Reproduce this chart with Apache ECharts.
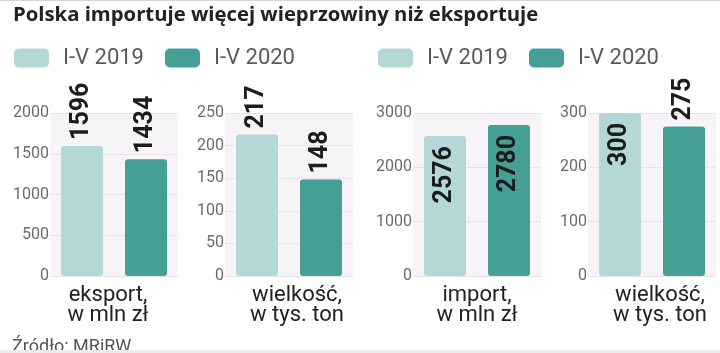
<!DOCTYPE html>
<html>
<head>
<meta charset="utf-8">
<script src="https://cdn.jsdelivr.net/npm/echarts@6/dist/echarts.min.js"></script>
<style>
    html, body { margin: 0; padding: 0; background: #fff; }
    #chart { width: 720px; height: 353px; }
</style>
</head>
<body>
<div id="chart"></div>
<script>
    // dane
    var seriesNames = ['I-V 2019', 'I-V 2020'];
    var values2019 = [1596, 217, 2576, 300];
    var values2020 = [1434, 148, 2780, 275];
    var panelNames = ['eksport,\nw mln zł', 'wielkość,\nw tys. ton', 'import,\nw mln zł', 'wielkość,\nw tys. ton'];
    var axisMax = [2000, 250, 3000, 300];
    var axisStep = [500, 50, 1000, 100];

    // wygląd
    var colorLight = '#b4d8d7';
    var colorDark = '#459f95';
    var gridLeft = [50, 225, 413, 588];
    var namePadding = [[0, 12, 0, 0], [0, 0, 0, 16], [0, 0, 0, 0], [0, 0, 0, 16]];
    // etykiety: true = wewnątrz słupka
    var inside2019 = [false, false, true, true];
    var inside2020 = [false, false, true, false];

    function barLabel(isInside) {
        return {
            show: true,
            position: isInside ? 'insideTop' : 'top',
            rotate: 90,
            align: isInside ? 'right' : 'left',
            verticalAlign: 'middle',
            distance: isInside ? 10 : 6,
            fontFamily: 'Roboto',
            fontWeight: 'bold',
            fontSize: 25,
            color: '#1c1c1c'
        };
    }

    var grids = [], xAxes = [], yAxes = [], series = [];
    for (var i = 0; i < 4; i++) {
        grids.push({
            left: gridLeft[i], width: 128, top: 113, bottom: 77,
            show: true, backgroundColor: '#f7f4f8', borderWidth: 0
        });
        xAxes.push({
            gridIndex: i,
            type: 'category',
            data: ['2019', '2020'],
            axisLine: {show: false},
            axisTick: {show: false},
            axisLabel: {show: false},
            name: panelNames[i],
            nameLocation: 'middle',
            nameGap: 9,
            nameTextStyle: {
                fontFamily: 'Roboto',
                fontSize: 22,
                lineHeight: 20,
                color: '#222',
                padding: namePadding[i]
            }
        });
        yAxes.push({
            gridIndex: i,
            type: 'value',
            min: 0,
            max: axisMax[i],
            interval: axisStep[i],
            axisLine: {show: false},
            axisTick: {show: false},
            axisLabel: {
                fontFamily: 'Roboto', fontSize: 16, color: '#6b6b6b', margin: 1,
                formatter: function (v) { return String(v); }
            },
            splitLine: {lineStyle: {color: '#e9e3e9', width: 1}}
        });
        series.push({
            name: seriesNames[0], type: 'bar', xAxisIndex: i, yAxisIndex: i,
            data: [values2019[i], '-'], barWidth: 42, barGap: '-100%',
            itemStyle: {color: colorLight, borderRadius: 3},
            label: barLabel(inside2019[i])
        });
        series.push({
            name: seriesNames[1], type: 'bar', xAxisIndex: i, yAxisIndex: i,
            data: ['-', values2020[i]], barWidth: 42, barGap: '-100%',
            itemStyle: {color: colorDark, borderRadius: 3},
            label: barLabel(inside2020[i])
        });
    }

    var legendBase = {
        top: 47,
        padding: 0,
        itemWidth: 35,
        itemHeight: 19,
        itemGap: 21,
        icon: 'roundRect',
        textStyle: {fontFamily: 'Roboto', fontSize: 22, color: '#5a5a5a', padding: [0, 0, 0, 9]},
        data: seriesNames
    };

    var option = {
        animation: false,
        title: {
            text: 'Polska importuje więcej wieprzowiny niż eksportuje',
            left: 13, top: 5, padding: 0,
            textStyle: {fontFamily: 'Open Sans', fontSize: 20.3, fontWeight: 'bold', color: '#222'}
        },
        legend: [
            Object.assign({left: 14}, legendBase),
            Object.assign({left: 378}, legendBase)
        ],
        grid: grids,
        xAxis: xAxes,
        yAxis: yAxes,
        series: series,
        graphic: [
            {type: 'rect', left: 0, top: 0, shape: {width: 720, height: 1}, style: {fill: '#d6d3e2'}},
            {type: 'text', left: 12, top: 338, style: {text: 'Źródło: MRiRW', font: '18px Roboto', fill: '#555'}},
            {type: 'rect', left: 0, top: 350, z: 100, shape: {width: 720, height: 3}, style: {fill: '#ececec'}}
        ]
    };

    var myChart = echarts.init(document.getElementById('chart'));
    myChart.setOption(option);
</script>
</body>
</html>
